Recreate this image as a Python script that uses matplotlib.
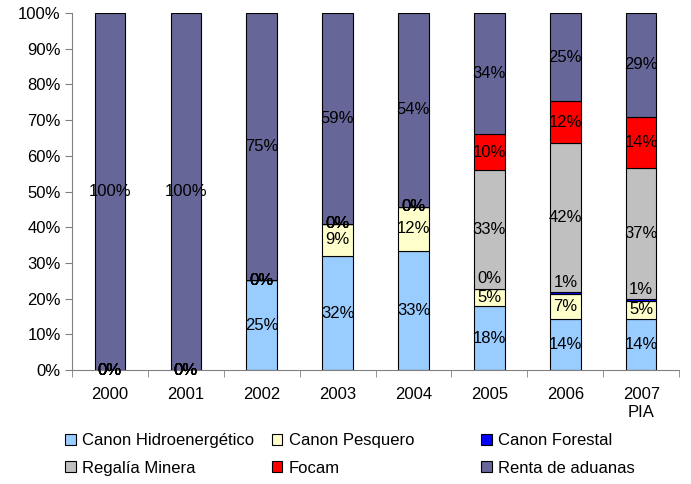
import matplotlib
matplotlib.use("Agg")
import matplotlib.pyplot as plt
from matplotlib.patches import Patch
import numpy as np

plt.rcParams['font.family'] = ['Liberation Sans', 'DejaVu Sans']

years = ['2000', '2001', '2002', '2003', '2004', '2005', '2006', '2007\nPIA']
series = ['Canon Hidroenergético', 'Canon Pesquero', 'Canon Forestal',
          'Regalía Minera', 'Focam', 'Renta de aduanas']
colors = ['#99CCFF', '#FFFFCC', '#0000FF', '#C0C0C0', '#FF0000', '#666699']

hidro    = [0, 0, 25.2, 31.9, 33.4, 17.8, 14.3, 14.4]
pesquero = [0, 0, 0.0, 9.1, 12.3, 4.8, 7.0, 4.9]
forestal = [0, 0, 0.0, 0.0, 0.0, 0.2, 0.6, 0.7]
regalia  = [0, 0, 0.0, 0.0, 0.0, 33.2, 41.6, 36.6]
focam    = [0, 0, 0.0, 0.0, 0.0, 10.1, 11.8, 14.4]
renta    = [100, 100, 74.8, 59.0, 54.3, 33.9, 24.7, 29.0]

data = [hidro, pesquero, forestal, regalia, focam, renta]

fig = plt.figure(figsize=(6.91, 4.84), dpi=100)
ax = fig.add_axes([0.104, 0.2355, 0.879, 0.7376])

x = np.arange(len(years))
bottom = np.zeros(len(years))
for vals, col, name in zip(data, colors, series):
    vals = np.array(vals, dtype=float)
    ax.bar(x, vals, 0.4, bottom=bottom, color=col, edgecolor='black',
           linewidth=0.8, label=name, zorder=2)
    for i, v in enumerate(vals):
        # every label is kept, the 0% ones pile up on the segment boundary
        y = bottom[i] + v / 2
        if name == 'Canon Forestal' and v > 0:
            y += 3  # moved up a little in the original
        ax.text(x[i], y, f'{round(v):.0f}%', ha='center', va='center',
                fontsize=12, zorder=3)
    bottom += vals

ax.set_xlim(-0.5, len(years) - 0.5)
ax.set_ylim(0, 100)
ax.set_yticks(np.arange(0, 101, 10))
ax.set_yticklabels([f'{t}%' for t in range(0, 101, 10)], fontsize=12)
ax.set_xticks(x)
ax.set_xticklabels(years, fontsize=12, linespacing=1.25)
ax.set_xticks(np.arange(-0.5, len(years) - 0.4, 1), minor=True)
ax.tick_params(axis='x', which='major', length=0, pad=12)
ax.tick_params(axis='x', which='minor', length=5, direction='out', color='#808080')
ax.tick_params(axis='y', length=5, direction='out', color='#808080', pad=3)

for s in ['top', 'right']:
    ax.spines[s].set_visible(False)
ax.spines['left'].set_color('#808080')
ax.spines['bottom'].set_color('#808080')

handles = [Patch(facecolor=c, edgecolor='black', linewidth=0.8) for c in colors]
cols = [(0, 3, 0.094), (1, 4, 0.393), (2, 5, 0.696)]
for a, b, xpos in cols:
    fig.legend([handles[a], handles[b]], [series[a], series[b]],
               loc='upper left', bbox_to_anchor=(xpos, 0.105), frameon=False,
               fontsize=12, handlelength=0.65, handleheight=0.65,
               handletextpad=0.4, labelspacing=0.75, borderaxespad=0,
               borderpad=0)

fig.savefig('out.png', dpi=100)
